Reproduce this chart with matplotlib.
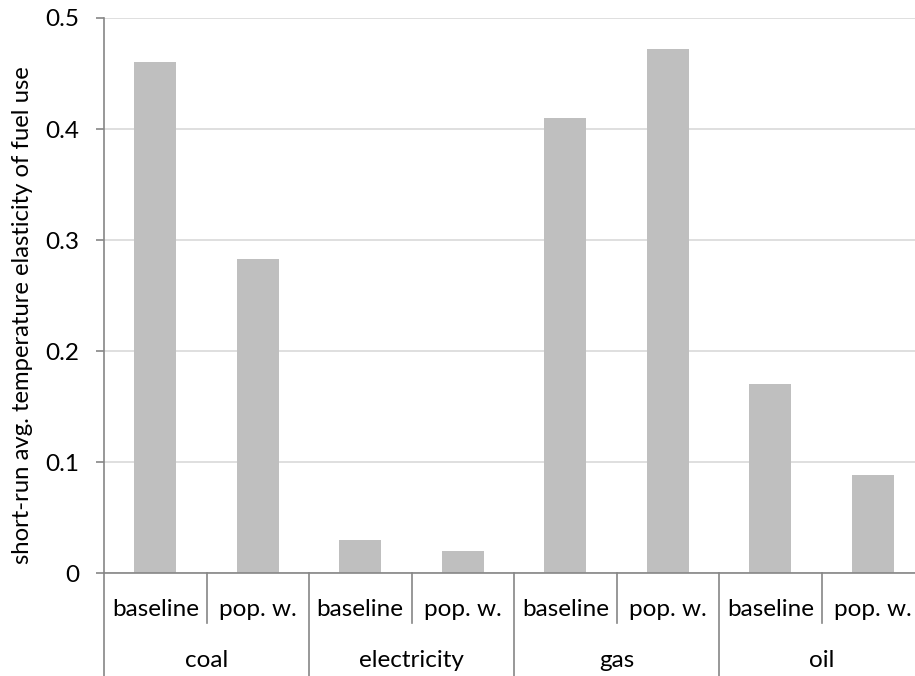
import matplotlib
matplotlib.use("Agg")
import matplotlib.pyplot as plt
import matplotlib.transforms as mtransforms
import numpy as np

plt.rcParams['font.family'] = ['Lato', 'DejaVu Sans']

fuels = ["coal", "electricity", "gas", "oil"]
variants = ["baseline", "pop. w."]
elasticity = [0.46, 0.283, 0.03, 0.02, 0.41, 0.472, 0.17, 0.088]

FS = 17.5

fig = plt.figure(figsize=(9.15, 6.76), dpi=100)
ax = fig.add_axes([104/915, 1-573/676, 820/915, 555/676])

x = np.arange(len(elasticity))
ax.bar(x, elasticity, width=0.41, color="#bfbfbf", zorder=2)

ax.set_xlim(-0.5, len(elasticity) - 0.5)
ax.set_ylim(0, 0.5)
ax.set_yticks([0, 0.1, 0.2, 0.3, 0.4, 0.5])
ax.set_yticklabels(["0", "0.1", "0.2", "0.3", "0.4", "0.5"], fontsize=FS)
ax.yaxis.grid(True, color="#d9d9d9", linewidth=1.2, zorder=0)
ax.set_xticks([])
ax.tick_params(axis="y", length=6, color="#868686", width=1.2, pad=12)
for s in ["top", "right"]:
    ax.spines[s].set_visible(False)
for s in ["left", "bottom"]:
    ax.spines[s].set_color("#868686")
    ax.spines[s].set_linewidth(1.2)
ax.set_ylabel("short-run avg. temperature elasticity of fuel use", fontsize=17.2)
ax.yaxis.set_label_coords(-0.087, 0.465)

# two-level category axis
tr = mtransforms.blended_transform_factory(ax.transData, ax.transAxes)
for i, v in enumerate(elasticity):
    ax.text(i, -0.065, variants[i % 2], transform=tr, ha="center", va="center", fontsize=FS)
for g, name in enumerate(fuels):
    ax.text(2*g + 0.5, -0.157, name, transform=tr, ha="center", va="center", fontsize=FS)
    ax.plot([2*g + 0.5, 2*g + 0.5], [0, -0.09], transform=tr, color="#868686", lw=1.2, clip_on=False)
    ax.plot([2*g - 0.5, 2*g - 0.5], [0, -0.2], transform=tr, color="#868686", lw=1.2, clip_on=False)
ax.plot([7.5, 7.5], [0, -0.2], transform=tr, color="#868686", lw=1.2, clip_on=False)

fig.savefig("out.png", dpi=100)
